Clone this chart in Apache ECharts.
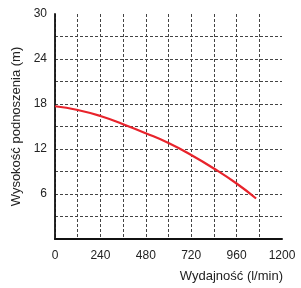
<!DOCTYPE html>
<html>
<head>
<meta charset="utf-8">
<script src="https://cdn.jsdelivr.net/npm/echarts@6/dist/echarts.min.js"></script>
<style>html,body{margin:0;padding:0;background:#fff;}#c{width:301px;height:288px;}</style>
</head>
<body>
<div id="c"></div>
<script>
var flow = [0, 120, 240, 360, 480, 600, 720, 840, 960, 1063];
var head = [17.7, 17.2, 16.4, 15.3, 14.1, 12.8, 11.2, 9.4, 7.4, 5.4];
var xTickLabels = [0, 240, 480, 720, 960, 1200];
var yTickLabels = [6, 12, 18, 24, 30];

var gridColors = ['#444','#444','#444','#444','#444','#444','#444','#444','#444','#444','rgba(0,0,0,0)'];
var chart = echarts.init(document.getElementById('c'), null, {renderer: 'canvas'});
chart.setOption({
  animation: false,
  textStyle: {fontFamily: 'Liberation Sans, Arial, sans-serif'},
  grid: {left: 55, right: 19, top: 14, bottom: 49, containLabel: false, outerBoundsMode: 'none'},
  xAxis: {
    type: 'value', min: 0, max: 1200, interval: 120,
    name: 'Wydajność (l/min)', nameLocation: 'end', nameGap: 1,
    nameTextStyle: {color: '#222', fontSize: 13, align: 'right', verticalAlign: 'top', padding: [31, 0, 0, 0]},
    axisLine: {lineStyle: {color: '#111', width: 2}},
    axisTick: {show: false},
    axisLabel: {color: '#222', fontSize: 12, margin: 11,
      formatter: function (v) { return xTickLabels.indexOf(v) >= 0 ? String(v) : ''; }},
    splitLine: {show: true, lineStyle: {color: gridColors, width: 1, type: [3, 2]}}
  },
  yAxis: {
    type: 'value', min: 0, max: 30, interval: 3,
    name: 'Wysokość podnoszenia (m)', nameLocation: 'middle', nameGap: 27,
    nameTextStyle: {color: '#222', fontSize: 13},
    axisLine: {show: true, lineStyle: {color: '#111', width: 1.8}},
    axisTick: {show: false},
    axisLabel: {color: '#222', fontSize: 12, margin: 8,
      formatter: function (v) { return yTickLabels.indexOf(v) >= 0 ? String(v) : ''; }},
    splitLine: {show: true, lineStyle: {color: gridColors, width: 1, type: [3, 2]}}
  },
  series: [{
    type: 'line', smooth: true, showSymbol: false,
    data: flow.map(function (f, i) { return [f, head[i]]; }),
    lineStyle: {color: '#e8232b', width: 2.2}
  }]
});
</script>
</body>
</html>
